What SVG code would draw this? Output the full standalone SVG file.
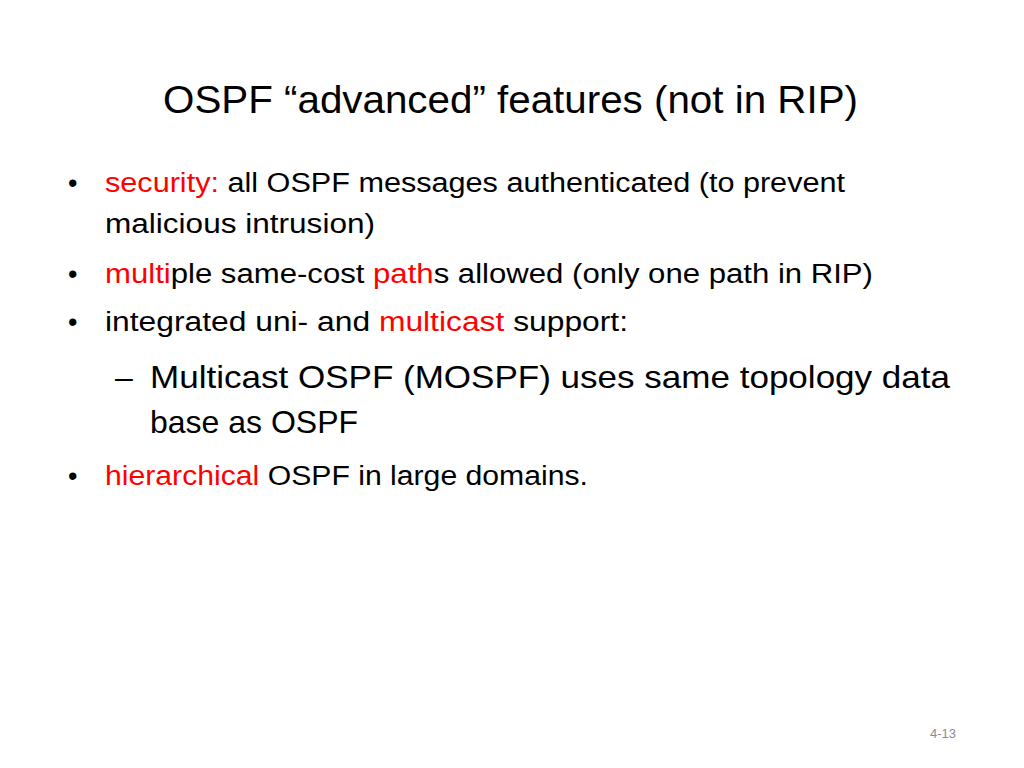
<svg xmlns="http://www.w3.org/2000/svg" width="1024" height="768" viewBox="0 0 1024 768">
<style>
text{font-family:"Liberation Sans","Open Sans",sans-serif;fill:#000}
.t{font-size:38px}
.b{font-size:27px}
.s{font-size:32px}
.r{fill:#FF0000}
.n{font-size:13px;fill:#8c8c8c}
</style>
<rect width="1024" height="768" fill="#fff"/>
<g id="title"><text class="t" x="163" y="113" textLength="695" lengthAdjust="spacingAndGlyphs">OSPF “advanced” features (not in RIP)</text></g>
<g id="bullets">
<text class="b" x="68" y="192">•</text>
<text class="b" x="105" y="192" textLength="740" lengthAdjust="spacingAndGlyphs"><tspan class="r">security:</tspan> all OSPF messages authenticated (to prevent</text>
<text class="b" x="105" y="233" textLength="270" lengthAdjust="spacingAndGlyphs">malicious intrusion)</text>
<text class="b" x="68" y="283">•</text>
<text class="b" x="105" y="283" textLength="768" lengthAdjust="spacingAndGlyphs"><tspan class="r">multi</tspan>ple same-cost <tspan class="r">path</tspan>s allowed (only one path in RIP)</text>
<text class="b" x="68" y="331">•</text>
<text class="b" x="105" y="331" textLength="523" lengthAdjust="spacingAndGlyphs">integrated uni- and <tspan class="r">multicast</tspan> support:</text>
<text class="s" x="115" y="388">–</text>
<text class="s" x="150" y="388" textLength="800" lengthAdjust="spacingAndGlyphs">Multicast OSPF (MOSPF) uses same topology data</text>
<text class="s" x="150" y="433" textLength="208" lengthAdjust="spacingAndGlyphs">base as OSPF</text>
<text class="b" x="68" y="485">•</text>
<text class="b" x="105" y="485" textLength="483" lengthAdjust="spacingAndGlyphs"><tspan class="r">hierarchical</tspan> OSPF in large domains.</text>
</g>
<g id="page"><text class="n" x="930" y="738">4-13</text></g>
</svg>
